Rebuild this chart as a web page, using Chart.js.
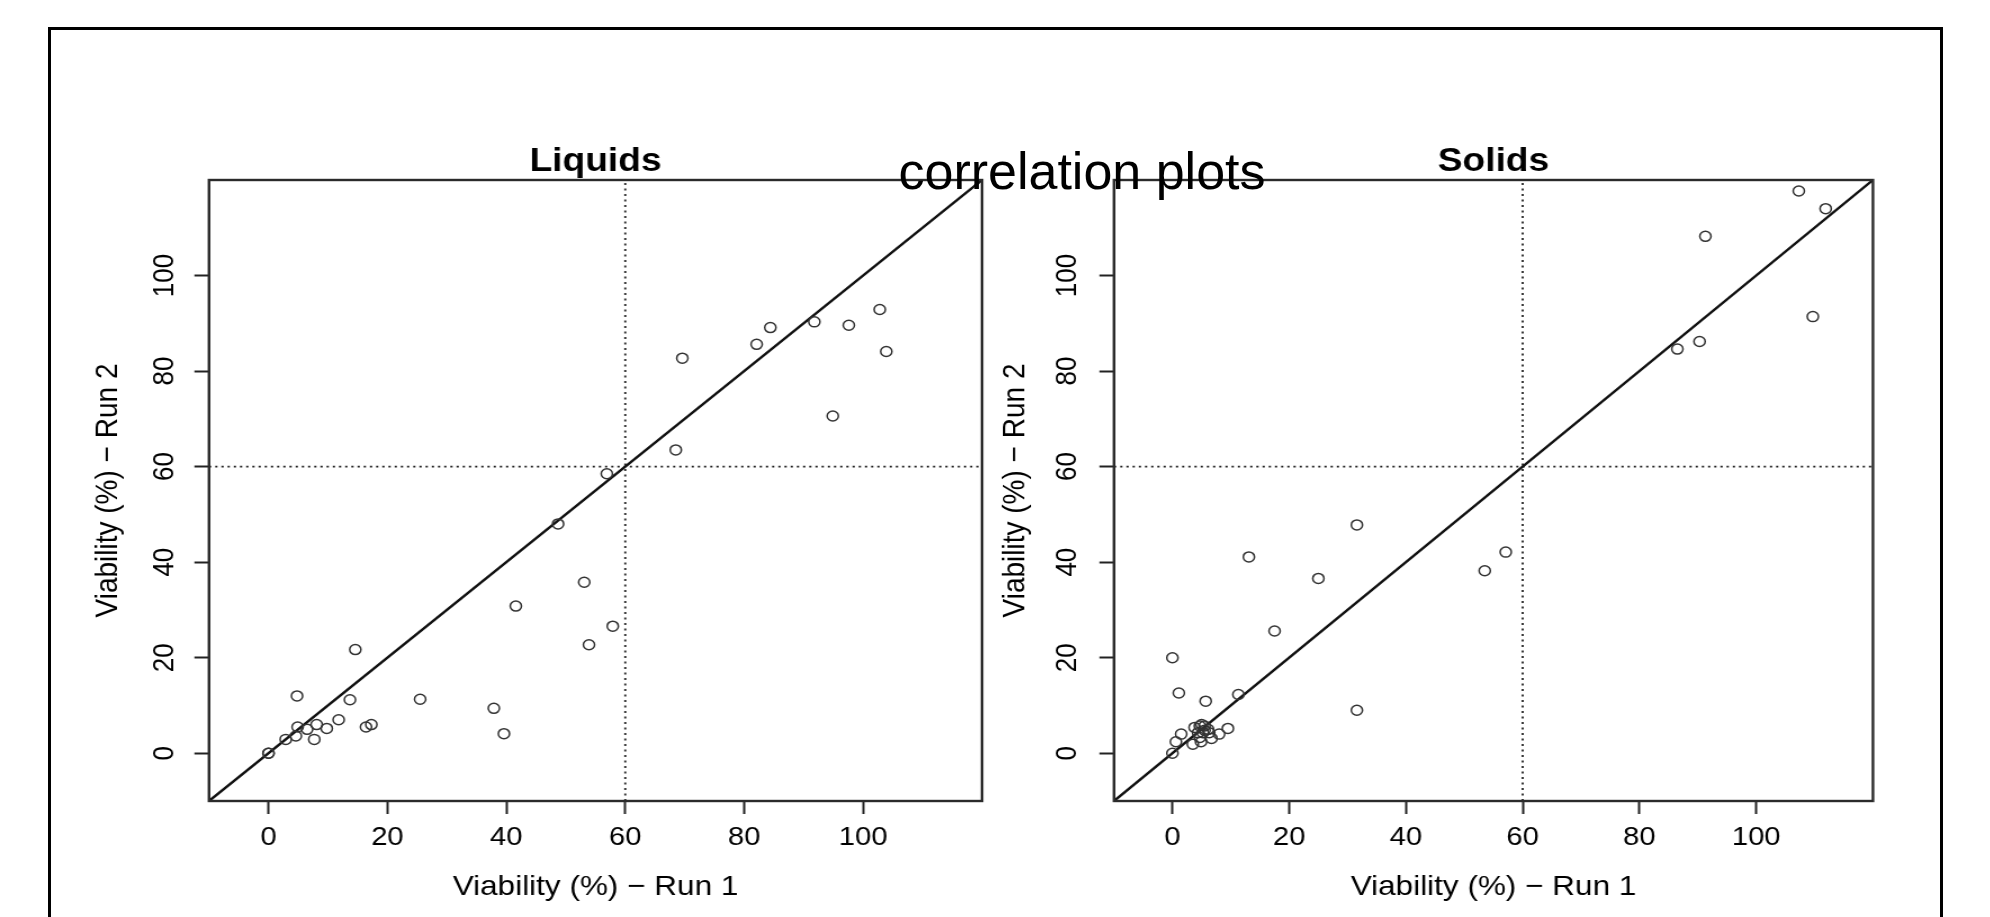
<!DOCTYPE html>
<html>
<head>
<meta charset="utf-8">
<title>correlation plots</title>
<script src="https://cdn.jsdelivr.net/npm/chart.js@4.4.1/dist/chart.umd.min.js"></script>
<style>
  html, body { margin: 0; padding: 0; background: #fff; }
  body { width: 1990px; height: 917px; position: relative; overflow: hidden; }
  .frame {
    position: absolute; left: 48px; top: 27px; width: 1895px; height: 1000px;
    border: 3px solid #000; box-sizing: border-box;
  }
  canvas { position: absolute; top: 0; transform: scaleX(1.125); transform-origin: 0 0; }
  #liquids { left: 0; }
  #solids { left: 995px; }
  .main-title {
    position: absolute; top: 145px; left: 1082px; transform: translateX(-50%);
    font: 52px/52px "Liberation Sans", Arial, sans-serif; color: #000;
    white-space: nowrap; z-index: 2;
  }
</style>
</head>
<body>
<div class="frame"></div>
<canvas id="liquids" width="884" height="917"></canvas>
<canvas id="solids" width="884" height="917"></canvas>
<div class="main-title">correlation plots</div>
<script>
// viability readings, run 1 vs run 2
const liquidsRun1 = [69.6, 82.1, 84.4, 91.8, 97.6, 102.8, 103.9, 94.9, 68.5, 56.9, 48.7,
  53.1, 41.6, 57.9, 53.9, 39.6, 37.9, 25.5, 14.6, 4.8, 13.7, 11.8, 8.1, 9.8, 16.4, 17.3,
  6.5, 4.9, 4.6, 2.9, 7.7, 0, 0];
const liquidsRun2 = [82.7, 85.6, 89.1, 90.3, 89.6, 92.9, 84.1, 70.6, 63.5, 58.5, 48.0,
  35.8, 30.8, 26.6, 22.7, 4.1, 9.4, 11.3, 21.7, 12.0, 11.2, 7.0, 6.0, 5.2, 5.5, 6.0,
  5.0, 5.5, 3.6, 2.9, 2.9, 0, 0];

const solidsRun1 = [107.3, 111.9, 91.3, 109.7, 86.5, 90.3, 57.1, 53.5, 31.6, 13.1, 25.0,
  17.5, 0.0, 1.1, 5.7, 11.3, 31.6, 0, 9.5, 8.0, 6.7, 4.9, 3.5, 1.5, 0.6, 3.8, 4.7, 5.5,
  6.1, 4.4, 5.2, 6.3, 4.7, 5.5, 5.0];
const solidsRun2 = [117.7, 114.0, 108.2, 91.4, 84.6, 86.2, 42.1, 38.2, 47.8, 41.1, 36.6,
  25.6, 20.0, 12.6, 10.9, 12.3, 9.0, 0, 5.2, 4.0, 3.1, 2.4, 1.9, 4.0, 2.4, 5.4, 5.7, 5.7,
  5.0, 4.3, 4.3, 4.3, 3.3, 4.8, 6.0];

const tickValues = [0, 20, 40, 60, 80, 100];
const axisMin = -10;
const axisMax = 120;
const cutoff = 60;

Chart.defaults.font.family = '"Liberation Sans", Arial, sans-serif';
Chart.defaults.color = '#000';

// box round the plotting region, like R's box()
const plotBox = {
  id: 'plotBox',
  afterDraw(chart) {
    const { ctx, chartArea: a } = chart;
    ctx.save();
    ctx.strokeStyle = '#2b2b2b';
    ctx.lineWidth = 2.4;
    ctx.strokeRect(a.left, a.top, a.right - a.left, a.bottom - a.top);
    ctx.restore();
  }
};

function toPoints(xs, ys) {
  return xs.map((x, i) => ({ x, y: ys[i] }));
}

function setTicks(scale) {
  scale.ticks = tickValues.map(v => ({ value: v }));
}

function buildConfig(title, xs, ys, box) {
  return {
    type: 'scatter',
    data: {
      datasets: [
        {
          data: toPoints(xs, ys),
          pointRadius: 5,
          pointBorderWidth: 1.5,
          pointBorderColor: '#333',
          pointBackgroundColor: 'rgba(0,0,0,0)'
        },
        {
          data: [{ x: axisMin, y: axisMin }, { x: axisMax, y: axisMax }],
          showLine: true, pointRadius: 0, borderColor: '#111', borderWidth: 2.4
        },
        {
          data: [{ x: cutoff, y: axisMin }, { x: cutoff, y: axisMax }],
          showLine: true, pointRadius: 0, borderColor: '#222', borderWidth: 1.8,
          borderDash: [2, 3.5]
        },
        {
          data: [{ x: axisMin, y: cutoff }, { x: axisMax, y: cutoff }],
          showLine: true, pointRadius: 0, borderColor: '#222', borderWidth: 1.8,
          borderDash: [2, 3.5]
        }
      ]
    },
    options: {
      responsive: false,
      animation: false,
      events: [],
      layout: { padding: { left: 0, right: box.padRight, top: 0, bottom: 0 } },
      plugins: {
        legend: { display: false },
        tooltip: { enabled: false },
        title: {
          display: true, text: title, fullSize: false, color: '#000',
          font: { size: 33, weight: 'bold', lineHeight: 1 },
          padding: { top: 145, bottom: 2 }
        }
      },
      scales: {
        x: {
          type: 'linear', min: axisMin, max: axisMax,
          afterBuildTicks: setTicks,
          afterFit: s => { s.height = 116; },
          border: { display: false },
          grid: { drawOnChartArea: false, tickLength: 13, tickColor: '#222', tickWidth: 2 },
          ticks: { autoSkip: false, maxRotation: 0, padding: 11, color: '#000',
            font: { size: 26, lineHeight: 1 } },
          title: { display: true, text: 'Viability (%) − Run 1', color: '#000',
            font: { size: 28, lineHeight: 1 }, padding: { top: 0, bottom: 16 } }
        },
        y: {
          type: 'linear', min: axisMin, max: axisMax,
          afterBuildTicks: setTicks,
          afterFit: s => { s.width = box.yWidth; },
          border: { display: false },
          grid: { drawOnChartArea: false, tickLength: 13, tickColor: '#222', tickWidth: 2 },
          ticks: { autoSkip: false, minRotation: 90, maxRotation: 90, crossAlign: 'center',
            padding: box.yTickPad, color: '#000', font: { size: 26, lineHeight: 1 } },
          title: { display: true, text: 'Viability (%) − Run 2', color: '#000',
            font: { size: 28, lineHeight: 1 }, padding: { top: box.yTitlePad, bottom: 0 } }
        }
      }
    },
    plugins: [plotBox]
  };
}

new Chart(document.getElementById('liquids'),
  buildConfig('Liquids', liquidsRun1, liquidsRun2,
    { yWidth: 185.8, padRight: 11.1, yTickPad: 4, yTitlePad: 82 }));

new Chart(document.getElementById('solids'),
  buildConfig('Solids', solidsRun1, solidsRun2,
    { yWidth: 105.8, padRight: 103.6, yTickPad: 6, yTitlePad: 4.7 }));
</script>
</body>
</html>
